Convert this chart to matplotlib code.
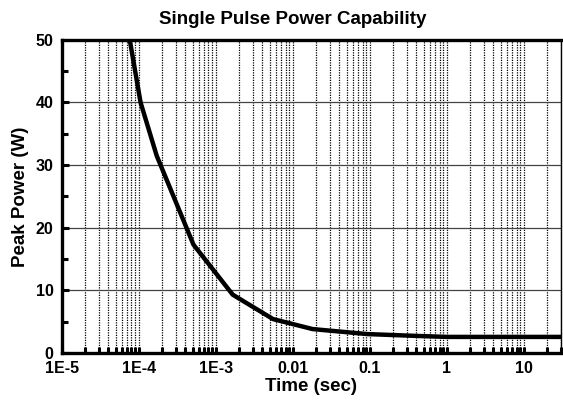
import numpy as np
import matplotlib
matplotlib.use('agg')
import matplotlib.pyplot as plt
from matplotlib.ticker import FixedLocator, LogLocator, NullFormatter, MultipleLocator

# pulse width (sec) vs peak power (W)
time_s = [7.6e-5, 1.05e-4, 1.7e-4, 5.1e-4, 1.65e-3, 5.5e-3, 0.018, 0.093, 0.42, 1.0, 30.0]
power_w = [50.0, 40.0, 31.5, 17.3, 9.3, 5.4, 3.8, 3.0, 2.7, 2.55, 2.55]

xticks = [1e-5, 1e-4, 1e-3, 0.01, 0.1, 1, 10]
xlabels = ['1E-5', '1E-4', '1E-3', '0.01', '0.1', '1', '10']
yticks = [0, 10, 20, 30, 40, 50]

plt.rcParams['font.family'] = ['Liberation Sans', 'DejaVu Sans']
plt.rcParams['font.weight'] = 'bold'

f = plt.figure(figsize=(5.63, 4.07), dpi=100)
ax = f.add_axes([0.110, 0.133, 0.886, 0.769])

ax.plot(time_s, power_w, color='black', lw=3.2, solid_joinstyle='round', zorder=5, clip_on=True)

ax.set_xscale('log')
ax.set_xlim(1e-5, 30)
ax.set_ylim(0, 50)

ax.xaxis.set_major_locator(FixedLocator(xticks))
ax.set_xticklabels(xlabels)
ax.xaxis.set_minor_locator(LogLocator(base=10, subs=np.arange(2, 10), numticks=20))
ax.xaxis.set_minor_formatter(NullFormatter())
ax.set_yticks(yticks)
ax.yaxis.set_minor_locator(MultipleLocator(5))

ax.grid(True, which='both', axis='x', color='black', ls=(0, (1, 1)), lw=0.9)
ax.grid(True, which='major', axis='y', color='#444444', ls='-', lw=0.9)

ax.tick_params(which='both', direction='in', width=2.2, labelsize=11.5)
ax.tick_params(axis='x', which='both', length=4, pad=6)
ax.tick_params(axis='y', which='major', length=5, pad=6)
ax.tick_params(axis='y', which='minor', length=4)

for s in ax.spines.values():
    s.set_linewidth(2.4)
ax.spines['right'].set_linewidth(1.0)

f.text(0.519, 0.952, 'Single Pulse Power Capability', fontsize=13.5, fontweight='bold',
       ha='center', va='center')
ax.set_xlabel('Time (sec)', fontsize=13.5, fontweight='bold', labelpad=1)
ax.set_ylabel('Peak Power (W)', fontsize=13.5, fontweight='bold', labelpad=5)

plt.savefig('out.png', dpi=100)
plt.close()
